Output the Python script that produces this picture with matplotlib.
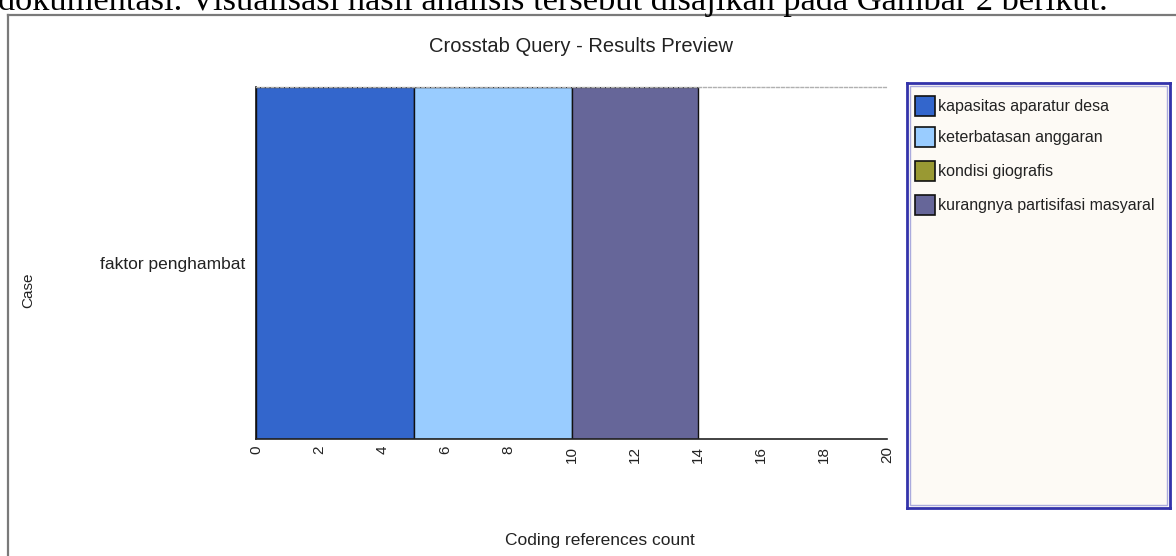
import matplotlib
matplotlib.use("Agg")
import matplotlib.pyplot as plt
from matplotlib.patches import Rectangle
from matplotlib.lines import Line2D

# ---- data ----
case_labels = ["faktor penghambat"]
series_names = ["kapasitas aparatur desa", "keterbatasan anggaran",
                "kondisi giografis", "kurangnya partisifasi masyaral"]
series_values = [5, 5, 0, 4]
series_colors = ["#3366CC", "#99CCFF", "#999933", "#666699"]
x_ticks = [0, 2, 4, 6, 8, 10, 12, 14, 16, 18, 20]
title = "Crosstab Query - Results Preview"
x_label = "Coding references count"
y_label = "Case"
top_text = "dokumentasi. Visualisasi hasil analisis tersebut disajikan pada Gambar 2 berikut."

W, H = 1176, 556
fig = plt.figure(figsize=(W / 100, H / 100), dpi=100)
fig.patch.set_facecolor("white")
plt.rcParams["font.family"] = ["Liberation Sans", "DejaVu Sans"]

def fx(px):
    return px / W

def fy(py):
    return 1 - py / H

# top document text (cut off by the image edge, as in the reference)
t = fig.text(fx(-2), fy(10), top_text, family="Liberation Serif", fontsize=20,
             ha="left", va="baseline", color="black")
fig.canvas.draw()
bb = t.get_window_extent()
t.set_fontsize(20 * 1113 / bb.width)

# frame of the screenshot
fig.add_artist(Line2D([fx(8), fx(1176)], [fy(15), fy(15)], color="#7a7a7a", lw=1.6))
fig.add_artist(Line2D([fx(8), fx(8)], [fy(15), fy(556)], color="#7a7a7a", lw=1.6))

# main axes
L, R, T, B = 256, 887, 87, 439
ax = fig.add_axes([fx(L), fy(B), fx(R - L), (B - T) / H])
left = 0
for name, v, c in zip(series_names, series_values, series_colors):
    if v > 0:
        ax.barh(0, v, left=left, height=1.0, color=c, edgecolor="#111111", linewidth=1.0)
    left += v
ax.set_xlim(x_ticks[0], x_ticks[-1])
ax.set_ylim(-0.5, 0.5)
ax.set_xticks(x_ticks)
ax.set_xticklabels([str(v) for v in x_ticks], rotation=90, fontsize=11, color="#222222")
ax.set_yticks([0])
ax.set_yticklabels(case_labels, fontsize=12.5, color="#222222")
ax.tick_params(axis="both", length=0, pad=5)
ax.tick_params(axis="y", pad=8)
ax.spines["right"].set_visible(False)
ax.spines["top"].set_linestyle((0, (2, 1.5)))
ax.spines["top"].set_color("#b0b0b0")
ax.spines["top"].set_linewidth(1.0)
ax.spines["left"].set_color("#111111")
ax.spines["bottom"].set_color("#222222")
ax.spines["left"].set_linewidth(1.2)
ax.spines["bottom"].set_linewidth(1.2)

fig.text(fx(581), fy(47), title, fontsize=14.5, ha="center", va="center", color="#222222")
fig.text(fx(600), fy(540), x_label, fontsize=12.5, ha="center", va="center", color="#222222")
fig.text(fx(28), fy(290), y_label, fontsize=11, ha="center", va="center", rotation=90, color="#222222")

# legend box
lx0, lx1, ly0, ly1 = 907, 1170, 83, 508
lax = fig.add_axes([fx(lx0), fy(ly1), fx(lx1 - lx0), (ly1 - ly0) / H])
lax.set_xlim(lx0, lx1)
lax.set_ylim(ly1, ly0)
lax.set_facecolor("#FDFAF5")
for s in lax.spines.values():
    s.set_color("#3333AA")
    s.set_linewidth(2.0)
lax.set_xticks([])
lax.set_yticks([])
lax.add_patch(Rectangle((lx0 + 3, ly0 + 3), lx1 - lx0 - 6, ly1 - ly0 - 6, fill=False,
                        edgecolor="#aaaadd", linewidth=1.0))
row_centers = [106, 137, 171, 205]
for name, c, yc in zip(series_names, series_colors, row_centers):
    lax.add_patch(Rectangle((915, yc - 10), 20, 20, facecolor=c, edgecolor="#111111", linewidth=1.2))
    lax.text(938, yc, name, fontsize=11.5, ha="left", va="center", color="#222222")

fig.savefig("out.png", dpi=100)
